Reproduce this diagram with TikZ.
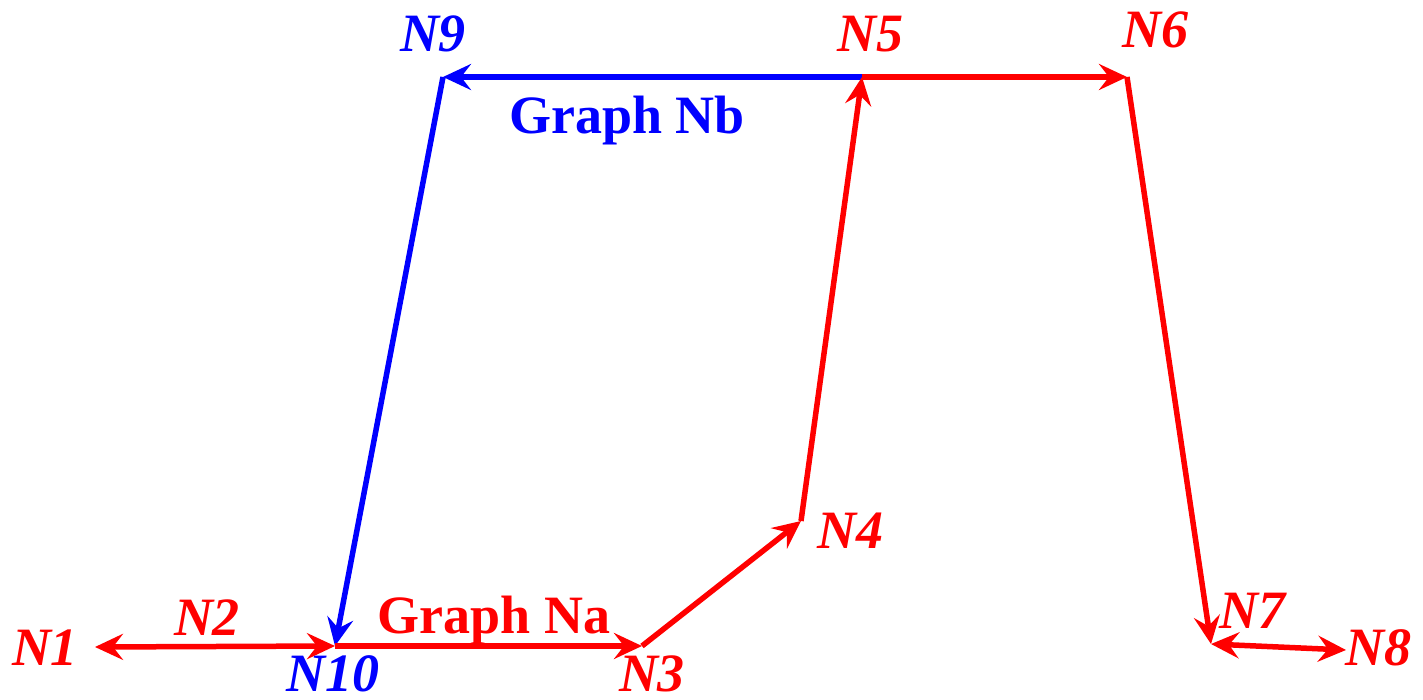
\documentclass[tikz,border=0pt]{standalone}
\usepackage{fontspec}
\setmainfont{Liberation Serif}
\usetikzlibrary{arrows.meta}
\definecolor{nared}{RGB}{255,0,0}
\definecolor{nbblue}{RGB}{0,0,255}

\begin{document}
\begin{tikzpicture}[x=1pt,y=-1pt,
   >={Stealth[length=28pt,width=26pt,inset=10pt]},
   lbl/.style={font=\fontsize{54}{60}\selectfont\bfseries\itshape,
               anchor=base,inner sep=0pt},
   glbl/.style={font=\fontsize{54}{60}\selectfont\bfseries,
                anchor=base,inner sep=0pt},
   link/.style={line width=5.5pt,->},
   twoway/.style={line width=5.5pt,<->}]
  \useasboundingbox (0,0) rectangle (1423,700);

  % graph points
  \coordinate (n1)  at (95,647);
  \coordinate (n10) at (335,646);
  \coordinate (n3)  at (642,646);
  \coordinate (n4)  at (801,521);
  \coordinate (n5)  at (862,77);
  \coordinate (n6)  at (1127,77);
  \coordinate (n9)  at (443,77);
  \coordinate (n7)  at (1211,644);
  \coordinate (n8)  at (1346,650);

  % labels
  \node[lbl,nared]  (l1)  at (45,665)   {N1};
  \node[lbl,nared]  (l2)  at (207,635)  {N2};
  \node[lbl,nbblue] (l10) at (333,691)  {N10};
  \node[lbl,nared]  (l3)  at (652,691)  {N3};
  \node[lbl,nared]  (l4)  at (850,548)  {N4};
  \node[lbl,nared]  (l5)  at (870,52)   {N5};
  \node[lbl,nbblue] (l9)  at (433,52)   {N9};
  \node[lbl,nared]  (l6)  at (1155,48)  {N6};
  \node[lbl,nared]  (l7)  at (1252,628) {N7};
  \node[lbl,nared]  (l8)  at (1378,665) {N8};
  \node[glbl,nared]  (gna) at (494,633) {Graph Na};
  \node[glbl,nbblue] (gnb) at (627,134) {Graph Nb};

  % Graph Nb
  \draw[link,nbblue] (n5) -- (n9);
  \draw[link,nbblue] (n9) -- (n10);
  % Graph Na
  \draw[twoway,nared] (n1) -- (n10);
  \draw[link,nared] (n10) -- (n3);
  \draw[link,nared] (n3) -- (n4);
  \draw[link,nared] (n4) -- (n5);
  \draw[link,nared] (n5) -- (n6);
  \draw[link,nared] (n6) -- (n7);
  \draw[twoway,nared] (n7) -- (n8);
\end{tikzpicture}
\end{document}
